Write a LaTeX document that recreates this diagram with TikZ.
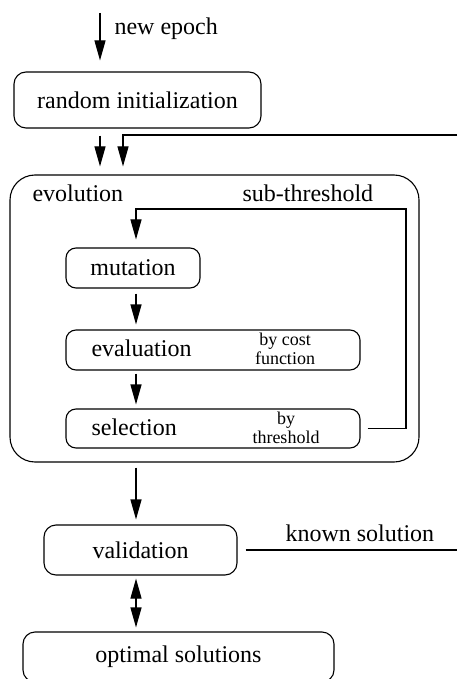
\documentclass[tikz,border=0pt]{standalone}
\usepackage{fontspec}
\setmainfont{Liberation Serif}
\usetikzlibrary{arrows.meta}
\begin{document}
\begin{tikzpicture}[x=0.5pt,y=-0.5pt, line width=0.55pt,
  box/.style={draw, rounded corners=5pt, inner sep=0pt, anchor=center, font=\fontsize{12}{14}\selectfont},
  lbl/.style={inner sep=0pt, font=\fontsize{12}{14}\selectfont},
  small/.style={inner sep=0pt, font=\fontsize{9}{10}\selectfont},
  arr/.style={-{Triangle[length=10pt,width=5.5pt]}},
  darr/.style={{Triangle[length=10pt,width=5.5pt]}-{Triangle[length=10pt,width=5.5pt]}},
]
\useasboundingbox (0,0) rectangle (457,679);

% free ends
\coordinate (epoch) at (100,13);
\coordinate (fbin) at (457,135);
\coordinate (fbx) at (123,135);
\coordinate (ksout) at (457,550);
\coordinate (lc) at (136,209);
\coordinate (rc) at (406,209);

% boxes
\node[box, rounded corners=6pt, minimum width=123.5pt, minimum height=28pt] (init) at (137.5,100) {random initialization};
\node[box, rounded corners=12.5pt, minimum width=204.5pt, minimum height=143.5pt] (evo) at (214.5,318.5) {};
\node[box, minimum width=67pt, minimum height=20pt] (mut) at (133,268) {mutation};
\node[box, minimum width=147pt, minimum height=20pt] (eval) at (213,350) {};
\node[box, minimum width=147pt, minimum height=19.5pt] (sel) at (213,428.5) {};
\node[box, rounded corners=6pt, minimum width=96.5pt, minimum height=25pt] (val) at (140.5,550) {validation};
\node[box, rounded corners=6pt, minimum width=155.5pt, minimum height=25pt] (opt) at (178.5,657) {optimal solutions};

% labels
\node[lbl, anchor=base west] (tepoch) at (114,35) {new epoch};
\node[lbl, anchor=base west] (tevo) at (32,201.7) {evolution};
\node[lbl, anchor=base west] (tsub) at (242,201.7) {sub-threshold};
\node[lbl, anchor=base west] (teval) at (91,356.7) {evaluation};
\node[lbl, anchor=base west] (tsel) at (91,435) {selection};
\node[small, anchor=base] (tcost1) at (285,345.7) {by cost};
\node[small, anchor=base] (tcost2) at (285,364.3) {function};
\node[small, anchor=base] (tthr1) at (286,424) {by};
\node[small, anchor=base] (tthr2) at (286,443.3) {threshold};
\node[lbl, anchor=base west] (tknown) at (285,541.7) {known solution};

% connectors
\draw[arr, shorten >=5.5pt] (epoch) -- (epoch |- init.north);
\draw[arr, shorten <=3.5pt, shorten >=4pt] (init.south -| epoch) -- (evo.north -| epoch);
\draw[arr, shorten >=4pt] (fbin) -- (fbx) -- (fbx |- evo.north);
\draw[arr, shorten <=3.5pt, shorten >=4pt] (sel.east) -- (rc |- sel.east) -- (rc) -- (lc) -- (lc |- mut.north);
\draw[arr, shorten <=2.5pt, shorten >=2.5pt] (mut.south -| lc) -- (eval.north -| lc);
\draw[arr, shorten <=1.5pt, shorten >=2pt] (eval.south -| lc) -- (sel.north -| lc);
\draw[arr, shorten <=2.5pt, shorten >=2.5pt] (evo.south -| lc) -- (val.north -| lc);
\draw[darr, shorten <=1.5pt, shorten >=2pt] (val.south -| lc) -- (opt.north -| lc);
\draw[shorten <=4pt] (val.east) -- (ksout);
\end{tikzpicture}
\end{document}
